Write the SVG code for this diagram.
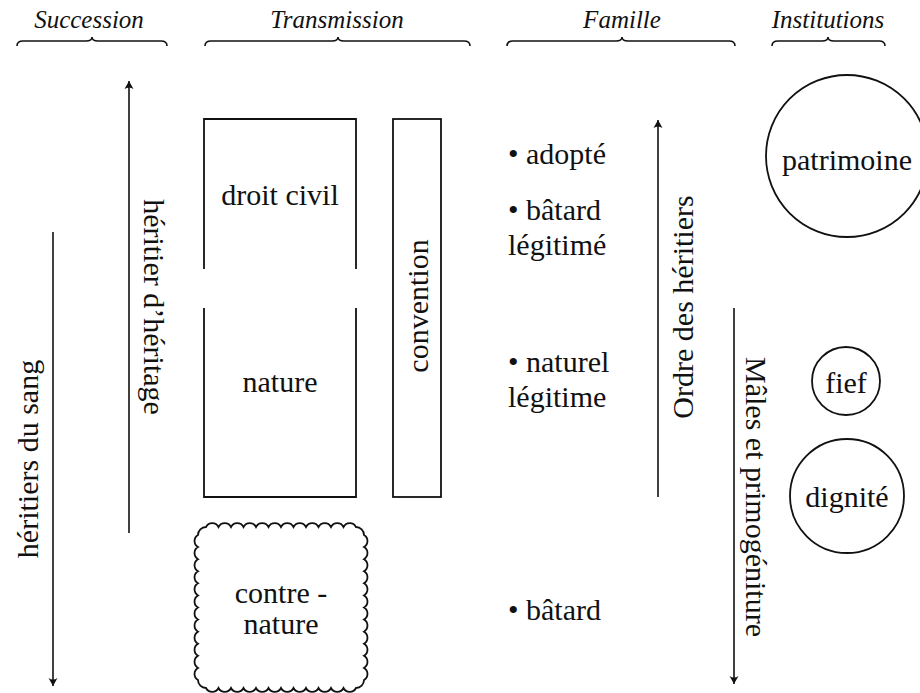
<svg xmlns="http://www.w3.org/2000/svg" width="920" height="693" viewBox="0 0 920 693" font-family="'Liberation Serif', 'Times New Roman', Tinos, 'Noto Serif', 'DejaVu Serif', Times, serif">
<style>
text{font-family:'Liberation Serif','Times New Roman',Tinos,'Noto Serif','DejaVu Serif',Times,serif;font-size:30px;fill:#111}
.h{font-style:italic;font-size:25px;text-anchor:middle}
.c{text-anchor:middle}
.v{text-anchor:middle;dominant-baseline:central}
.br{fill:none;stroke:#111;stroke-width:1.6}
.box{fill:none;stroke:#111;stroke-width:1.8}
.ln{fill:none;stroke:#111;stroke-width:1.6}
</style>
<defs>
<marker id="ah" viewBox="-10 -6 12 12" refX="0" refY="0" markerWidth="12" markerHeight="12" markerUnits="userSpaceOnUse" orient="auto">
<path d="M0,0 L-8,-4.5 Q-5,0 -8,4.5 Z" fill="#111"/>
</marker>
</defs>
<rect width="920" height="693" fill="#fff"/>

<g id="headers">
<text class="h" x="89" y="28">Succession</text>
<path class="br" d="M17,46 Q17,41 23,41 L86,41 Q92,41 92,37 Q92,41 98,41 L161,41 Q167,41 167,46"/>
<text class="h" x="337" y="28">Transmission</text>
<path class="br" d="M205,46 Q205,41 211,41 L332,41 Q338,41 338,37 Q338,41 344,41 L464,41 Q470,41 470,46"/>
<text class="h" x="622" y="28">Famille</text>
<path class="br" d="M507,46 Q507,41 513,41 L616,41 Q622,41 622,37 Q622,41 628,41 L729,41 Q735,41 735,46"/>
<text class="h" x="828" y="28">Institutions</text>
<path class="br" d="M772,46 Q772,41 778,41 L822,41 Q828,41 828,37 Q828,41 834,41 L879,41 Q885,41 885,46"/>
</g>

<g id="connectors">
<line class="ln" x1="53" y1="232" x2="53" y2="686" marker-end="url(#ah)"/>
<line class="ln" x1="129" y1="533" x2="129" y2="81" marker-end="url(#ah)"/>
<line class="ln" x1="658" y1="497" x2="658" y2="120" marker-end="url(#ah)"/>
<line class="ln" x1="734" y1="308" x2="734" y2="684" marker-end="url(#ah)"/>
</g>

<g id="label-sang"><text class="v" transform="translate(27,459) rotate(-90)">héritiers du sang</text></g>
<g id="label-heritage"><text class="v" transform="translate(154,307) rotate(90)">héritier d’héritage</text></g>
<g id="label-ordre"><text class="v" transform="translate(682,307) rotate(-90)">Ordre des héritiers</text></g>
<g id="label-males"><text class="v" transform="translate(756,497) rotate(90)">Mâles et primogéniture</text></g>

<g id="droit-civil">
<path class="box" d="M204,269 L204,119 L356,119 L356,269"/>
<text class="c" x="280" y="205">droit civil</text>
</g>
<g id="nature">
<path class="box" d="M204,308 L204,497 L356,497 L356,308"/>
<text class="c" x="280" y="392">nature</text>
</g>
<g id="convention">
<rect class="box" x="393" y="119" width="48" height="378"/>
<text class="v" transform="translate(417,306) rotate(-90)">convention</text>
</g>
<g id="contre-nature">
<path class="box" d="M206,527 a7,7 0 0 1 12.5,0 a7,7 0 0 1 12.5,0 a7,7 0 0 1 12.5,0 a7,7 0 0 1 12.5,0 a7,7 0 0 1 12.5,0 a7,7 0 0 1 12.5,0 a7,7 0 0 1 12.5,0 a7,7 0 0 1 12.5,0 a7,7 0 0 1 12.5,0 a7,7 0 0 1 12.5,0 a7,7 0 0 1 12.5,0 a7,7 0 0 1 12.5,0 a8,8 0 0 1 8,8 a7,7 0 0 1 0,12.083 a7,7 0 0 1 0,12.083 a7,7 0 0 1 0,12.083 a7,7 0 0 1 0,12.083 a7,7 0 0 1 0,12.083 a7,7 0 0 1 0,12.083 a7,7 0 0 1 0,12.083 a7,7 0 0 1 0,12.083 a7,7 0 0 1 0,12.083 a7,7 0 0 1 0,12.083 a7,7 0 0 1 0,12.083 a7,7 0 0 1 0,12.083 a8,8 0 0 1 -8,8 a7,7 0 0 1 -12.5,0 a7,7 0 0 1 -12.5,0 a7,7 0 0 1 -12.5,0 a7,7 0 0 1 -12.5,0 a7,7 0 0 1 -12.5,0 a7,7 0 0 1 -12.5,0 a7,7 0 0 1 -12.5,0 a7,7 0 0 1 -12.5,0 a7,7 0 0 1 -12.5,0 a7,7 0 0 1 -12.5,0 a7,7 0 0 1 -12.5,0 a7,7 0 0 1 -12.5,0 a8,8 0 0 1 -8,-8 a7,7 0 0 1 0,-12.083 a7,7 0 0 1 0,-12.083 a7,7 0 0 1 0,-12.083 a7,7 0 0 1 0,-12.083 a7,7 0 0 1 0,-12.083 a7,7 0 0 1 0,-12.083 a7,7 0 0 1 0,-12.083 a7,7 0 0 1 0,-12.083 a7,7 0 0 1 0,-12.083 a7,7 0 0 1 0,-12.083 a7,7 0 0 1 0,-12.083 a7,7 0 0 1 0,-12.083 a8,8 0 0 1 8,-8 Z"/>
<text class="c" x="281" y="603">contre -</text>
<text class="c" x="281" y="634">nature</text>
</g>

<g id="adopte"><text x="508" y="164">• adopté</text></g>
<g id="batard-legitime"><text x="508" y="220">• bâtard</text><text x="508" y="255">légitimé</text></g>
<g id="naturel-legitime"><text x="508" y="372">• naturel</text><text x="508" y="407">légitime</text></g>
<g id="batard"><text x="508" y="620">• bâtard</text></g>

<g id="patrimoine">
<circle class="box" cx="847" cy="156" r="81"/>
<text class="c" x="847" y="170">patrimoine</text>
</g>
<g id="fief">
<circle class="box" cx="846" cy="381" r="34"/>
<text class="c" x="846" y="393">fief</text>
</g>
<g id="dignite">
<circle class="box" cx="847" cy="496" r="57"/>
<text class="c" x="847" y="507">dignité</text>
</g>
</svg>
